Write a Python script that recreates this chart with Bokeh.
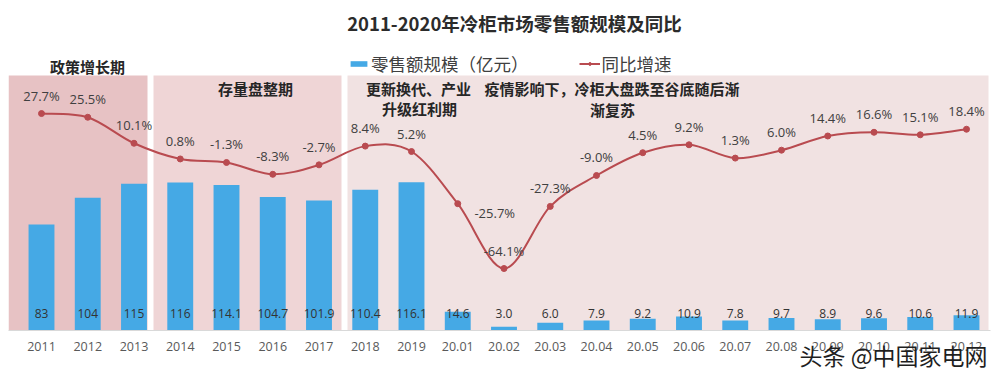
from bokeh.plotting import figure
from bokeh.models import Range1d, FixedTicker, Legend, LegendItem, Title, ColumnDataSource
from bokeh.core.properties import value
from bokeh.embed import file_html
from bokeh.resources import INLINE

# ---------------- data ----------------
periods = ["2011", "2012", "2013", "2014", "2015", "2016", "2017", "2018", "2019",
           "20.01", "20.02", "20.03", "20.04", "20.05", "20.06", "20.07", "20.08",
           "20.09", "20.10", "20.11", "20.12"]
retail_text = ["83", "104", "115", "116", "114.1", "104.7", "101.9", "110.4", "116.1",
               "14.6", "3.0", "6.0", "7.9", "9.2", "10.9", "7.8", "9.7",
               "8.9", "9.6", "10.6", "11.9"]
retail = [float(s) for s in retail_text]
growth = [27.7, 25.5, 10.1, 0.8, -1.3, -8.3, -2.7, 8.4, 5.2,
          -25.7, -64.1, -27.3, -9.0, 4.5, 9.2, 1.3, 6.0,
          14.4, 16.6, 15.1, 18.4]

title_text = "2011-2020年冷柜市场零售额规模及同比"
legend_bar = "零售额规模（亿元）"
legend_line = "同比增速"

# ---------------- layout helpers (page pixels -> data units) ----------------
X_FIRST_PX, X_STEP_PX = 41.0, 46.25
FRAME_TOP_PX, FRAME_BOTTOM_PX = 8.0, 330.0
BAR_PX_PER_UNIT = 1.276
PCT_ZERO_PX, PCT_PX_PER_UNIT = 159.8, 1.688
FIG_W, FIG_H = 992, 372

def dx(px):
    return (px - X_FIRST_PX) / X_STEP_PX

def dy(py):
    return (FRAME_BOTTOM_PX - py) / BAR_PX_PER_UNIT

x_start, x_end = dx(8), dx(990)
y_end = dy(FRAME_TOP_PX)
pct_start = -(FRAME_BOTTOM_PX - PCT_ZERO_PX) / PCT_PX_PER_UNIT
pct_end = (PCT_ZERO_PX - FRAME_TOP_PX) / PCT_PX_PER_UNIT

CJK = value("Noto Sans CJK SC")
NUM = value("Open Sans")

p = figure(width=FIG_W, height=FIG_H, x_range=Range1d(x_start, x_end), y_range=Range1d(0, y_end),
           output_backend="svg", toolbar_location=None, y_axis_location=None,
           min_border_left=8, min_border_right=2, min_border_top=8,
           min_border_bottom=FIG_H - 330,
           outline_line_color=None, background_fill_color="white", border_fill_color="white")
p.extra_y_ranges = {"pct": Range1d(pct_start, pct_end)}
p.grid.visible = False

# ---------------- background periods ----------------
reg_top = dy(75)
p.quad(left=[x_start, dx(153), dx(347)], right=[dx(147), dx(341), dx(988)],
       bottom=[0, 0, 0], top=[reg_top] * 3,
       fill_color=["#e7c2c4", "#efd5d6", "#f1e2e2"], line_color=None)

# ---------------- bars ----------------
xs = list(range(len(periods)))
bar_src = ColumnDataSource(dict(x=xs, top=retail, lab=retail_text))
bars = p.vbar(x="x", top="top", width=0.56, source=bar_src, fill_color="#45a9e5", line_color=None)
p.text(x="x", y=0, text="lab", source=bar_src, y_offset=-17, text_align="center",
       text_baseline="middle", text_font=NUM, text_font_size="12px", text_color="#333333")

# ---------------- smooth growth line (Bezier through the points) ----------------
n = len(growth)
x0, y0, x1, y1, cx0, cy0, cx1, cy1 = [], [], [], [], [], [], [], []
for i in range(n - 1):
    ip, inn = max(i - 1, 0), min(i + 2, n - 1)
    x0.append(xs[i]); y0.append(growth[i])
    x1.append(xs[i + 1]); y1.append(growth[i + 1])
    cx0.append(xs[i] + (xs[i + 1] - xs[ip]) / 6.0)
    cy0.append(growth[i] + (growth[i + 1] - growth[ip]) / 6.0)
    cx1.append(xs[i + 1] - (xs[inn] - xs[i]) / 6.0)
    cy1.append(growth[i + 1] - (growth[inn] - growth[i]) / 6.0)
line_r = p.bezier(x0=x0, y0=y0, x1=x1, y1=y1, cx0=cx0, cy0=cy0, cx1=cx1, cy1=cy1,
                  line_color="#b94b50", line_width=2, y_range_name="pct")
pts = p.scatter(x=xs, y=growth, size=6, marker="circle", fill_color="#b94b50",
                line_color="#b94b50", y_range_name="pct")

pct_labels = [f"{g:.1f}%" for g in growth]
x_off = [0] * n
y_off = [-18] * n
x_off[9], y_off[9] = 37, 9   # -25.7% sits to the right of its point
p.text(x=xs, y=growth, text=pct_labels, x_offset=x_off, y_offset=y_off, y_range_name="pct",
       text_align="center", text_baseline="middle", text_font=NUM, text_font_size="13px",
       text_color="#404040")

# ---------------- titles & period notes ----------------
p.text(x=[dx(514)], y=[dy(22)], text=[title_text], text_align="center", text_baseline="middle",
       text_font=CJK, text_font_size="18.5px", text_font_style="bold", text_color="#2b2b2b")
p.text(x=[dx(87), dx(255), dx(418), dx(419), dx(612)],
       y=[dy(66), dy(88), dy(88), dy(108), dy(109)],
       text=["政策增长期", "存量盘整期", "更新换代、产业", "升级红利期", "渐复苏"],
       text_align="center", text_baseline="middle", text_font=CJK, text_font_size="15px",
       text_font_style="bold", text_color="#262626")
p.text(x=[dx(484)], y=[dy(88)], text=["疫情影响下，冷柜大盘跌至谷底随后渐"],
       text_align="left", text_baseline="middle", text_font=CJK, text_font_size="15px",
       text_font_style="bold", text_color="#262626")

# ---------------- legend ----------------
legend = Legend(items=[LegendItem(label=legend_bar, renderers=[bars]),
                       LegendItem(label=legend_line, renderers=[line_r, pts])],
                orientation="horizontal", location=(340, 254), padding=0, margin=0,
                spacing=50, glyph_width=21, glyph_height=7, label_standoff=2,
                label_text_font="Noto Sans CJK SC", label_text_font_size="17.5px",
                label_text_color="#404040",
                border_line_color=None, background_fill_alpha=0)
p.add_layout(legend, "center")

# ---------------- x axis ----------------
ax = p.xaxis[0]
ax.ticker = FixedTicker(ticks=xs)
ax.major_label_overrides = {i: lab for i, lab in enumerate(periods)}
ax.axis_line_color = "#d9d9d9"
ax.major_tick_line_color = None
ax.minor_tick_line_color = None
ax.major_tick_out = 0
ax.major_label_standoff = 11
ax.major_label_text_font = "Open Sans"
ax.major_label_text_font_size = "12.5px"
ax.major_label_text_color = "#595959"

# ---------------- source watermark (overlapping the last tick labels) ----------------
p.add_layout(Title(text="头条 @中国家电网", align="right", text_font="Noto Sans CJK SC",
                   text_font_size="23px", text_font_style="normal", text_color="#1f1f1f",
                   standoff=-37, offset=3), "below")

open("out.html", "w").write(file_html(p, INLINE))
